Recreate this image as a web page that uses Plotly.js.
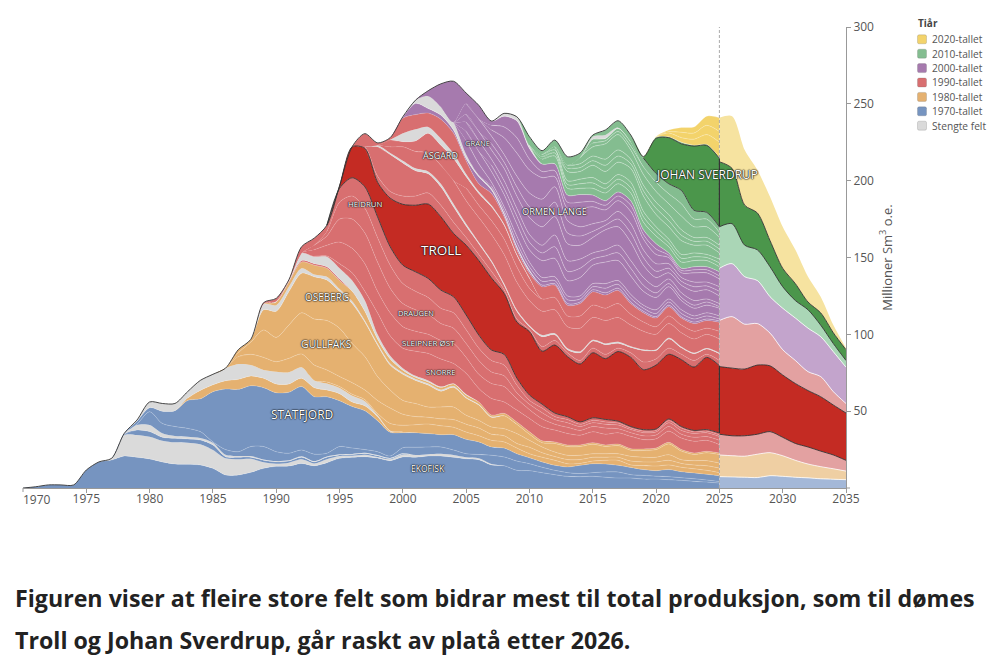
<!DOCTYPE html>
<html>
<head>
<meta charset="utf-8">
<script src="https://cdn.plot.ly/plotly-3.0.1.min.js"></script>
<style>
html, body { margin: 0; padding: 0; background: #fff; }
</style>
</head>
<body>
<div id="grafikk" style="width:1000px;height:660px;"></div>
<script>
// each array is the top edge of a band (million Sm3 o.e.).
// fra(startyear, [...]) : before the start year the band has no thickness
function fra(start, verdier) { return { start: start, verdier: verdier }; }

var aar = [];
for (var a = 1970; a <= 2025; a++) aar.push(a);
var aarProg = [2025, 2026, 2027, 2028, 2029, 2030, 2031, 2032, 2033, 2034, 2035];

// 1970-tallet
var ekofisk = fra(1970, [0, .8, 2, 2, 2, 11.7, 17, 18.2, 20.8, 20, 18.9, 17, 15.6, 15.4, 15, 12.8, 8.5, 8.5, 10.2, 12.8, 14.1, 14.3, 16, 14.5, 16.5, 19.3, 20, 20.4, 19.5, 17.8, 20.2, 20, 20.8, 20.8, 20, 19, 18.4, 15, 14.5, 11.5, 11.3, 10, 8.7, 7.6, 7.4, 7.6, 7, 6.5, 6.5, 5.8, 5.8, 5.4, 5, 4.3, 3.9, 3.2]);
var stengt1 = fra(1977, [19.3, 34.5, 34.5, 33.4, 30.8, 29.7, 29.5, 28.4, 24.7, 19.3, 18.7, 19, 16.7, 15.8, 16.5, 18.7, 16, 18.7, 20.8, 21, 21.7, 20.2, 18.7, 21.8, 21.5, 22, 22.3, 21.5, 20, 19.3, 15.6]);
var blaa2 = fra(1978, [35, 37.7, 36.7, 33, 32.3, 31.9, 31.2, 28, 20.4, 20, 20, 18, 17, 17.5, 20, 17, 20, 21.5, 21.8, 22.5, 21, 19.2, 22.3]);
var stengt2 = fra(1978, [35.2, 41, 41, 35.6, 33.8, 33.3, 32.5, 29.5, 21.6, 20.8, 20.8, 18.6, 17.5, 18, 20.7, 17.5, 20.5, 22, 22.2, 22.9, 21.4, 19.6, 22.6]);
var blaa3 = fra(1978, [35.4, 41.5, 49.7, 42, 40, 38.8, 36.7, 30, 25, 23.6, 27, 27, 23.6, 22.6, 24.7, 22, 22.6, 27, 26, 25, 23.6, 20.8, 26.2, 26.5, 26.7, 26.7, 24.7, 22.3, 21.8, 21.3, 20.2, 17.5, 15.8, 13.5, 11.5, 10, 9.4, 10, 10.4, 10.4, 8.7, 8.2, 7.7, 7.4, 6.7, 6, 5.2, 4.2]);
var statfjord = fra(1978, [35.6, 43.5, 52.3, 50, 50.3, 57, 58, 62.7, 64.4, 64.2, 66.6, 65.3, 62, 62.3, 66, 59.4, 59.4, 56.8, 53, 50.3, 43.8, 36.2, 36, 36, 35.4, 34.7, 34.7, 31.7, 30, 26.7, 26, 22.3, 19.7, 17, 14.8, 13.7, 14.8, 15.8, 15.6, 14.8, 13.4, 12, 11.3, 12, 10.6, 9.8, 8.9, 8]);

// 1980-tallet
var oransje1 = fra(1983, [58.5, 63.5, 67.2, 69.8, 70.7, 72.9, 71.4, 67.7, 67.7, 71.4, 65.3, 63.8, 61.4, 56, 53.5, 46.5, 37, 36.5]);
var stengt3 = fra(1979, [44.2, 56, 55, 55, 62.7, 70, 74, 78, 80.7, 80, 76.8, 75.7, 75.3, 78.5, 70, 68, 65, 60, 56.5, 47.5, 37.3]);
var linjeA = fra(1994, [69, 66, 61, 57.5, 48.5, 42, 40.8, 41.2, 41.6, 40.5, 39.5, 36.4, 34, 31, 30, 26, 22.3, 20, 18, 15.8, 16, 17.5, 18, 18, 15, 14.6, 14.3, 15, 13.5, 12.5, 11.5, 10]);
var linjeB = fra(1987, [85.5, 87, 85, 82.2, 84.4, 87.2, 80, 76.8, 72.5, 68.5, 63.8, 57, 52, 48, 46.5, 46, 45, 44.5, 41.5, 39, 35, 34, 29, 26.5, 23, 20.5, 18.5, 18.5, 20, 20, 20, 17.5, 17, 17, 18, 16, 15, 14.5, 13]);
var gullfaks = fra(1987, [88, 95, 102.8, 98, 106, 114, 110, 109, 104, 94, 85.5, 72.5, 63.8, 57, 55, 52.7, 52.7, 52.7, 47.3, 44, 39.7, 38.6, 35.4, 31, 26.7, 23.4, 21.3, 21.3, 22.3, 22.3, 22.3, 20.6, 20, 20, 21.7, 18.4, 17.8, 17.8, 16.3]);
var oseberg = fra(1987, [90, 96.8, 116, 115, 127.8, 139.7, 137.5, 135.4, 128, 120, 108, 93, 80, 74, 70, 67, 63, 65.5, 58.5, 54, 46, 47, 41.5, 35, 29.5, 29, 27, 27, 28.5, 27, 27.6, 24.6, 24.4, 25, 28.7, 24, 21.8, 22.9, 21.8]);
var stengt4 = fra(1989, [119.5, 119, 131, 143, 139, 137.5, 129.5, 121.5, 109, 94, 81, 75, 71, 68, 64, 66.3, 59, 54.5, 46.5]);
var oransje2 = fra(1989, [119.8, 121, 134, 147, 145, 143, 135, 128, 115, 97, 84, 76.7, 72, 69, 65.5, 67.7, 60.5, 56, 47.5, 48.6, 43, 36.6, 30.7, 30, 28, 28, 29.5, 28, 28.6, 25.6, 25.4, 26, 29.7, 25, 22.8, 23.9, 22.8]);

// 1990-tallet
var roed0 = fra(1990, [121.1, 134.6, 148, 146, 144, 136]);
var stengt5 = fra(1990, [121.3, 135, 152.7, 150.5, 150.5, 143, 135, 122, 100, 86, 78, 73, 70, 66, 68, 61]);
var snorre = fra(1992, [148.5, 150.8, 151, 146, 140, 128, 114, 99, 91, 89, 87.6, 84, 81, 74.6, 64.8, 58.3, 56, 50.7, 45.3, 39.9, 37.7, 35.5, 34.4, 36.6, 35, 36, 33.6, 31.5, 32, 37, 32.5, 30.4, 31, 28.2]);
var sleipner = fra(1993, [155, 158, 160, 156, 146, 128, 114, 105, 102, 100, 96, 94, 85, 74, 68, 66, 58, 51, 45, 41.5, 39.5, 37.5, 40, 39, 38.5, 36, 34, 34.5, 40, 35, 33, 33.5, 31]);
var draugen = fra(1993, [158, 164, 175, 175, 166, 147, 130, 120, 116, 113, 107, 104, 94, 83, 75.5, 73, 62, 54.5, 49, 44.5, 42.5, 40, 42.5, 41.5, 41, 38, 36, 36.5, 42.5, 37.5, 35.5, 36, 33.5]);
var heidrun = fra(1994, [167, 186, 190, 182, 163, 145, 133, 128, 124, 117, 114, 103, 91, 83, 80, 67, 57, 52, 46.5, 44.5, 41.5, 44, 43, 42.3, 39, 37, 37.5, 43.8, 39, 36.5, 37, 34.7]);
var trollBunn = fra(1989, [120.6, 123.4, 135.5, 157, 162.6, 171, 195, 201.9, 196, 176.5, 157, 145, 140.7, 136.4, 128.8, 124.5, 112.6, 99.5, 89.8, 87, 71.6, 60.5, 54.6, 48.8, 46.4, 43, 45.7, 44.6, 43.5, 40, 38, 38.4, 44.9, 40, 37.5, 38, 35.8]);
var troll = fra(1995, [196.5, 222, 221, 199, 188.6, 184.6, 184, 184.8, 176.5, 165.7, 158, 148, 136.6, 126.7, 108, 101.8, 89, 93, 85.5, 80.7, 88, 84.2, 88.8, 85, 77, 80, 87, 83.5, 78.7, 85, 79.6]);
var aasgard0 = fra(1997, [222, 203, 193, 190, 190, 192, 184, 173, 163, 152, 141, 129, 110, 103, 92, 96, 88, 83, 91, 87, 91, 88, 82, 84, 91, 87, 83, 87, 83]);
var aasgard1 = fra(1998, [222, 217, 211.5, 206.5, 204.5, 196, 183, 170.5, 159, 147, 132, 115, 105, 98.5, 99.8, 90, 88, 95.6, 93.3, 94.2, 91.5, 89.5, 89.5, 97, 91.2, 87.4, 90.5, 87.4]);
var stengt6 = fra(1998, [223, 218, 213, 208, 206, 198, 185, 172, 160, 148, 133, 116, 105.8, 99.5, 100.7, 91, 88.9, 96.4, 94.1, 95.1, 92.2, 90.1, 90.1, 97.7, 91.9, 88, 91.1, 88]);
var aasgard2 = fra(1999, [222, 222, 219, 218, 210, 200, 187, 176, 165, 152, 134, 122, 115, 116, 105, 104, 111, 109, 111, 106, 102, 100, 107, 101, 97, 100, 97]);
var aasgard3 = fra(2005, [195, 184, 174, 162, 144, 130, 123, 124, 112, 112, 119, 117, 120, 113, 108, 105, 112, 106, 102, 104, 102]);
var aasgard4 = fra(1999, [226.4, 225.4, 225.8, 230.8, 223, 214.5, 202.6, 191.7, 183, 171, 151.6, 136.4]);
var stengt7 = fra(1999, [226.6, 230.8, 233.4, 235, 227.5, 217.8, 204.4, 193, 184, 171.8, 152.3, 136.8]);
var roedTopp = fra(1996, [222.2, 230.6, 224.6, 228, 240.6, 243, 244, 240, 231, 213, 198, 191.6, 176.5, 155, 139.7, 131, 132, 119, 120, 127.7, 125.6, 128.6, 120, 114, 110.6, 118, 110.6, 107, 109, 107.8]);

// 2000-tallet
var lilla1 = fra(2000, [241.3, 250.3, 247, 242.7, 233, 214.5, 202.5, 194, 178, 156.5, 141, 132, 133, 120, 121, 129, 127, 130, 121, 115, 111.5, 119, 111.5, 108, 110, 108.7]);
var stengt8 = fra(2001, [252.2, 255, 248, 238, 217, 203.5, 195, 179, 157.5, 142]);
var lillaA1 = fra(2007, [196.5, 180.5, 160, 144, 134.5, 135, 122.5, 123, 131, 130, 132.5, 123.5, 117, 113.5, 121, 113.5, 110, 112, 110]);
var lillaA = fra(2005, [226, 211, 199, 183, 164, 147, 137, 137.5, 125, 125, 133, 133, 135, 126, 119, 116, 123, 116, 112, 114, 112]);
var lillaB = fra(2005, [232, 219, 206, 191, 172, 155, 148, 149.4, 135, 137, 145, 147, 148, 138, 128, 124, 131, 122, 117, 119, 117]);
var lillaB2 = fra(2007, [210, 195, 177, 160, 153, 157, 141, 143, 149, 151, 153, 143, 132, 127, 133, 124, 119, 121, 118]);
var grane = fra(2005, [238, 226, 214, 200, 182, 165, 158, 164.6, 148, 149, 153, 155, 158, 148, 137, 131, 136, 127, 122, 123, 120]);
var lillaD = fra(2005, [243, 232, 220, 208, 190, 176, 170, 176.6, 159, 158, 163, 168, 170, 160, 145, 137, 140, 132, 128, 129, 125]);
var lillaD2 = fra(2007, [224, 212, 196, 183, 178, 186, 166, 164, 167, 171, 175, 166, 150, 141, 143, 134.5, 131, 131.5, 128]);
var ormenLange = fra(2005, [250, 240, 229, 217, 203, 192, 188, 196, 174, 170, 172, 174, 180, 172, 155, 146, 146, 137, 134, 134, 131]);
var lillaF = fra(2007, [233, 228, 218, 207, 202, 202.6, 182, 182, 183, 181, 187, 180, 162, 152, 150, 140, 140, 140, 136]);
var lillaF2 = fra(2007, [236, 235, 228, 214, 206, 206.5, 186, 186, 186.5, 184, 190, 184, 165, 155.5, 151.5, 141.5, 142, 142, 138]);
var lillaTopp = fra(2000, [241.6, 252.4, 258.5, 263, 264.7, 257, 249, 238.8, 242, 239, 221, 210.8, 211, 190.6, 191, 190.6, 187, 192.6, 187, 168, 159, 153, 143, 144, 144, 140.7]);
var stengt9 = fra(2008, [243.8, 241.6, 223]);

// 2010-tallet
var groenn1 = fra(2011, [214, 216, 195, 195, 195, 192, 198, 192, 173, 164, 157, 147, 148, 148, 144]);
var groenn1b = fra(2011, [215.5, 218, 197.5, 198, 198.5, 195, 201, 195.5, 176.5, 167, 159.5, 149.5, 150.5, 150, 146.5]);
var groenn2 = fra(2011, [217, 220, 200, 201, 202, 198, 204, 199, 180, 170, 162, 152, 153, 152, 149]);
var groenn3 = fra(2012, [222, 206, 206, 210, 206, 212, 208, 190, 178, 170, 161, 158, 158, 153]);
var groenn3b = fra(2013, [208, 208.5, 213, 210, 216, 211, 193.5, 182, 174, 164.5, 160.5, 160.5, 155.5]);
var groenn4 = fra(2013, [210, 211, 216, 214, 220, 214, 197, 186, 178, 168, 163, 163, 158]);
var groenn5 = fra(2014, [215, 222, 224, 230, 220, 204, 193, 185, 177, 170, 170, 163]);
var groenn5b = fra(2015, [224.5, 226, 232, 222.5, 209, 199, 191.5, 185, 175, 175, 166.5]);
var groenn6 = fra(2015, [227, 227.5, 234, 225]);
var stengt10 = fra(2015, [228.6, 229.7, 234.5, 225]);
var groennTopp = fra(2010, [228.6, 219.5, 226.4, 215.6, 218, 229.7, 233, 239, 229.7, 214.7, 204.7, 198, 193.7, 180.7, 179.4, 170]);
var sverdrup = fra(2019, [215.6, 227.6, 228, 224, 222.5, 223, 214.5]);
var groenn7 = fra(2020, [228.2, 228.5, 225, 223, 223.5, 215]);

// 2020-tallet
var gul1 = fra(2020, [228.5, 231, 228, 227, 230, 225]);
var gul2 = fra(2021, [232, 231.5, 231, 236, 232]);
var gulTopp = fra(2019, [215.7, 228.7, 233, 234.6, 235, 242, 241]);

// prognosis 2025-2035, merged per decade
var prog1970 = [7.4, 7.2, 7, 6.8, 8, 7.6, 7, 6.6, 6, 5.7, 5.4];
var prog1980 = [21.5, 21, 20.7, 22, 23, 21, 18, 15.6, 13.9, 12.5, 11];
var prog1990a = [35, 34, 34, 35, 36.7, 33, 29, 26.7, 24, 21.5, 18];
var progTroll = [79, 78, 77.4, 80, 79.5, 73.5, 68, 63.4, 59.4, 54, 48.8];
var prog1990b = [109, 111.5, 106.6, 107, 100.8, 90, 83, 75.7, 72.5, 62.7, 55];
var prog2000 = [143, 146, 137.5, 135, 124.5, 117, 110.6, 104, 98.5, 88.7, 78.6];
var prog2010 = [170, 172, 158, 155, 144, 131, 122, 116, 106, 94, 83];
var progSverdrup = [212.3, 208, 184, 179, 161, 143, 133, 121, 114, 101, 90];
var prog2020 = [241, 242, 220, 207, 189.5, 170, 155, 137.5, 124.5, 106, 91];

var farger = {
    '1970': '#7694c0', '1980': '#e5b170', '1990': '#d86f70', '2000': '#a67aae',
    '2010': '#84bd90', '2020': '#f3d36b', 'stengt': '#dadada',
    'troll': '#c42b23', 'sverdrup': '#4b964b'
};
// how visible the thin white field borders are per decade
var linjeStyrke = { '1970': 0.3, '1980': 0.32, '1990': 0.25, '2000': 0.5, '2010': 0.5, '2020': 0.4 };
var fargerProg = ['#a4b8d8', '#efcfa3', '#e3a1a1', '#c42b23', '#e3a1a1', '#c3a4cc', '#aad6b6', '#4b964b', '#f6e3a0'];

var legendeNavn = ['2020-tallet', '2010-tallet', '2000-tallet', '1990-tallet', '1980-tallet', '1970-tallet', 'Stengte felt'];
var legendeFarger = [farger['2020'], farger['2010'], farger['2000'], farger['1990'], farger['1980'], farger['1970'], farger['stengt']];

var feltNavn = ['STATFJORD', 'EKOFISK', 'GULLFAKS', 'OSEBERG', 'HEIDRUN', 'DRAUGEN', 'SLEIPNER ØST', 'SNORRE', 'TROLL', 'ÅSGARD', 'GRANE', 'ORMEN LANGE', 'JOHAN SVERDRUP'];
var feltX = [1992, 2002, 1994, 1994, 1997, 2001, 2002, 2003, 2003, 2003, 2005.9, 2012, 2024];
var feltY = [48, 13, 93.7, 124, 184.8, 114, 95, 75.5, 155, 216.7, 224.4, 180, 204];
var feltStr = [12, 8.5, 10.5, 10, 7.8, 7.6, 8, 7.6, 13.5, 9, 7.6, 9.2, 12];

var lagene = [
    [ekofisk, '1970'], [stengt1, 'stengt'], [blaa2, '1970'], [stengt2, 'stengt'], [blaa3, '1970'], [statfjord, '1970'],
    [oransje1, '1980'], [stengt3, 'stengt'], [linjeA, '1980'], [linjeB, '1980'], [gullfaks, '1980'], [oseberg, '1980'], [stengt4, 'stengt'], [oransje2, '1980'],
    [roed0, '1990'], [stengt5, 'stengt'], [snorre, '1990'], [sleipner, '1990'], [draugen, '1990'], [heidrun, '1990'], [trollBunn, '1990'],
    [troll, 'troll'], [aasgard0, '1990'], [aasgard1, '1990'], [stengt6, 'stengt'], [aasgard2, '1990'], [aasgard3, '1990'], [aasgard4, '1990'], [stengt7, 'stengt'], [roedTopp, '1990'],
    [lilla1, '2000'], [stengt8, 'stengt'], [lillaA1, '2000'], [lillaA, '2000'], [lillaB, '2000'], [lillaB2, '2000'], [grane, '2000'], [lillaD, '2000'], [lillaD2, '2000'], [ormenLange, '2000'], [lillaF, '2000'], [lillaF2, '2000'], [lillaTopp, '2000'], [stengt9, 'stengt'],
    [groenn1, '2010'], [groenn1b, '2010'], [groenn2, '2010'], [groenn3, '2010'], [groenn3b, '2010'], [groenn4, '2010'], [groenn5, '2010'], [groenn5b, '2010'], [groenn6, '2010'], [stengt10, 'stengt'], [groennTopp, '2010'],
    [sverdrup, 'sverdrup'], [groenn7, '2010'], [gul1, '2020'], [gul2, '2020'], [gulTopp, '2020']
];

var SMOOTH = 0.8;
var traces = [];
var linjer = [];
var forrige = aar.map(function () { return 0; });
var trollBunnY, trollToppY, sverdrupBunnY, sverdrupToppY;

lagene.forEach(function (lag, n) {
    var d = lag[0];
    var y = [];
    var linje = [];
    aar.forEach(function (yr, i) {
        var v = d.verdier[yr - d.start];
        if (yr < d.start || v === undefined || v < forrige[i]) v = forrige[i];
        y.push(v);
        linje.push(v > forrige[i] + 0.01 ? v : null);
    });
    traces.push({
        x: aar, y: y, type: 'scatter', mode: 'lines', fill: n === 0 ? 'tozeroy' : 'tonexty',
        fillcolor: farger[lag[1]], line: { width: 0, shape: 'spline', smoothing: SMOOTH },
        hoverinfo: 'skip', showlegend: false
    });
    if (linjeStyrke[lag[1]]) {
        linjer.push({
            x: aar, y: linje, type: 'scatter', mode: 'lines',
            line: { width: 0.6, color: 'rgba(255,255,255,' + linjeStyrke[lag[1]] + ')', shape: 'spline', smoothing: SMOOTH },
            hoverinfo: 'skip', showlegend: false
        });
    }
    if (d === trollBunn) trollBunnY = y;
    if (d === troll) trollToppY = y;
    if (d === groennTopp) sverdrupBunnY = y;
    if (d === sverdrup) sverdrupToppY = y;
    forrige = y;
});

// forecast part, lighter colours
[prog1970, prog1980, prog1990a, progTroll, prog1990b, prog2000, prog2010, progSverdrup, prog2020].forEach(function (y, n) {
    traces.push({
        x: aarProg, y: y, type: 'scatter', mode: 'lines', fill: n === 0 ? 'tozeroy' : 'tonexty',
        fillcolor: fargerProg[n], line: { width: 0, shape: 'spline', smoothing: SMOOTH },
        hoverinfo: 'skip', showlegend: false
    });
    if (n !== 2 && n !== 3 && n !== 6 && n !== 7 && n !== 8) {
        linjer.push({
            x: aarProg, y: y, type: 'scatter', mode: 'lines',
            line: { width: 1, color: 'rgba(255,255,255,0.75)', shape: 'spline', smoothing: SMOOTH },
            hoverinfo: 'skip', showlegend: false
        });
    }
});

function svart(x, y, bredde) {
    return {
        x: x, y: y, type: 'scatter', mode: 'lines',
        line: { width: bredde || 0.9, color: '#333', shape: 'spline', smoothing: SMOOTH },
        hoverinfo: 'skip', showlegend: false, connectgaps: false
    };
}
function fraAar(y, start) {
    return y.map(function (v, i) { return aar[i] >= start ? v : null; });
}
var svarte = [
    svart(aar, sverdrupToppY),
    svart(aar, fraAar(trollBunnY, 1994)),
    svart(aar, fraAar(trollToppY, 1994)),
    svart(aar, fraAar(sverdrupBunnY, 2019)),
    svart(aarProg, prog1990a), svart(aarProg, progTroll), svart(aarProg, prog2010), svart(aarProg, progSverdrup)
];

var alle = traces.concat(linjer, svarte);

// plot area in pixels, used for the hand made legend and the caption
function px(x) { return (x - 23) / 823; }
function py(y) { return (488 - y) / 461; }

var annotations = feltNavn.map(function (navn, i) {
    return {
        text: navn, x: feltX[i], y: feltY[i], xref: 'x', yref: 'y', showarrow: false,
        font: { family: 'Open Sans', size: feltStr[i], color: '#fff', shadow: '0 0 1.5px #111, 0 0 1.5px #111, 0 0 1px #111' }
    };
});
var shapes = [{
    type: 'line', xref: 'x', yref: 'y', x0: 2025, x1: 2025, y0: 0, y1: 300,
    line: { color: '#aaa', width: 1, dash: '3px,2px' }, layer: 'above'
}, {
    // black edge of Troll and Johan Sverdrup at the forecast start
    type: 'line', xref: 'x', yref: 'y', x0: 2025, x1: 2025, y0: trollBunnY[55], y1: trollToppY[55],
    line: { color: '#333', width: 1.2 }, layer: 'above'
}, {
    type: 'line', xref: 'x', yref: 'y', x0: 2025, x1: 2025, y0: sverdrupBunnY[55], y1: sverdrupToppY[55],
    line: { color: '#333', width: 1.2 }, layer: 'above'
}, {
    // tick at the axis zero, which has no label
    type: 'line', xref: 'paper', yref: 'paper', x0: 1, x1: px(850), y0: 0, y1: 0,
    line: { color: '#999', width: 1 }
}, {
    // first x tick, its label is moved to the right of the tick below
    type: 'line', xref: 'paper', yref: 'paper', x0: 0, x1: 0, y0: 0, y1: py(492),
    line: { color: '#999', width: 1 }
}];

annotations.push({
    text: '1970', xref: 'paper', yref: 'paper', x: px(21), y: py(499.5), xanchor: 'left', yanchor: 'middle',
    showarrow: false, font: { family: 'Open Sans', size: 12, color: '#555' }
});
annotations.push({
    text: '<b>Tiår</b>', xref: 'paper', yref: 'paper', x: px(916), y: py(23), xanchor: 'left', yanchor: 'middle',
    showarrow: false, font: { family: 'Open Sans', size: 10, color: '#444' }
});
legendeNavn.forEach(function (navn, i) {
    var ym = 39.3 + i * 14.4;
    annotations.push({
        text: navn, xref: 'paper', yref: 'paper', x: px(930.5), y: py(ym), xanchor: 'left', yanchor: 'middle',
        showarrow: false, font: { family: 'Open Sans', size: 10.2, color: '#555' }
    });
    var x0 = 917.5, x1 = 926.5, y0 = ym - 4.5, y1 = ym + 4.5, r = 1.5;
    shapes.push({
        type: 'path', xref: 'paper', yref: 'paper', fillcolor: legendeFarger[i], line: { color: 'rgba(90,90,90,0.35)', width: 0.6 },
        path: 'M' + px(x0 + r) + ',' + py(y0) + 'L' + px(x1 - r) + ',' + py(y0) + 'Q' + px(x1) + ',' + py(y0) + ' ' + px(x1) + ',' + py(y0 + r) +
            'L' + px(x1) + ',' + py(y1 - r) + 'Q' + px(x1) + ',' + py(y1) + ' ' + px(x1 - r) + ',' + py(y1) +
            'L' + px(x0 + r) + ',' + py(y1) + 'Q' + px(x0) + ',' + py(y1) + ' ' + px(x0) + ',' + py(y1 - r) +
            'L' + px(x0) + ',' + py(y0 + r) + 'Q' + px(x0) + ',' + py(y0) + ' ' + px(x0 + r) + ',' + py(y0) + 'Z'
    });
});

var tekstLinjer = ['Figuren viser at fleire store felt som bidrar mest til total produksjon, som til dømes', 'Troll og Johan Sverdrup, går raskt av platå etter 2026.'];
var tekstY = [598, 640];
tekstLinjer.forEach(function (t, i) {
    annotations.push({
        text: '<b>' + t + '</b>', xref: 'paper', yref: 'paper', x: px(12.5), y: py(tekstY[i]), xanchor: 'left', yanchor: 'middle',
        showarrow: false, font: { family: 'Open Sans', size: 23.2, color: '#222' }
    });
});

var layout = {
    width: 1000, height: 660,
    margin: { l: 23, r: 154, t: 27, b: 172 },
    paper_bgcolor: '#fff', plot_bgcolor: '#fff',
    showlegend: false,
    font: { family: 'Open Sans', color: '#555' },
    xaxis: {
        range: [1970, 2035], tickvals: [1975, 1980, 1985, 1990, 1995, 2000, 2005, 2010, 2015, 2020, 2025, 2030, 2035],
        showgrid: false, zeroline: false, showline: true, linecolor: '#999', linewidth: 1,
        ticks: 'outside', ticklen: 4, tickcolor: '#999', ticklabelstandoff: -4, tickfont: { family: 'Open Sans', size: 12, color: '#555' }
    },
    yaxis: {
        range: [0, 300], side: 'right', tickvals: [50, 100, 150, 200, 250, 300],
        showgrid: false, zeroline: false, showline: true, linecolor: '#999', linewidth: 1,
        ticks: 'outside', ticklen: 4, tickcolor: '#999', tickfont: { family: 'Open Sans', size: 12, color: '#555' },
        title: { text: 'Millioner Sm<sup>3</sup> o.e.', font: { family: 'Open Sans', size: 13, color: '#555' }, standoff: 9 }
    },
    annotations: annotations,
    shapes: shapes
};

Plotly.newPlot('grafikk', alle, layout, { displayModeBar: false, staticPlot: true });
</script>
</body>
</html>
